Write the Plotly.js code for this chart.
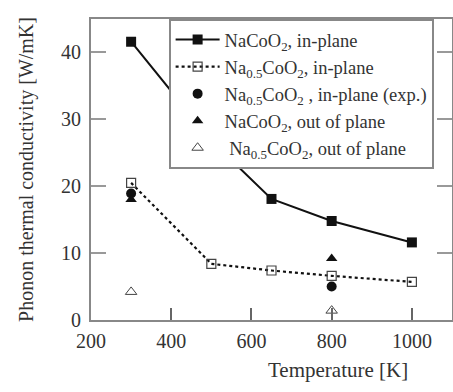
<!DOCTYPE html>
<html>
<head>
<meta charset="utf-8">
<script src="https://cdn.plot.ly/plotly-3.0.1.min.js"></script>
<style>html,body{margin:0;padding:0;background:#fff;}#chart{width:453px;height:392px;}</style>
</head>
<body>
<div id="chart"></div>
<script>
// Data
const tempFull = [300, 500, 650, 800, 1000];
const naCoO2InPlane = [41.6, 26.8, 18.1, 14.8, 11.6];
const na05InPlane = [20.5, 8.4, 7.4, 6.6, 5.7];
const tempExp = [300, 800];
const na05InPlaneExp = [18.9, 5.0];
const naCoO2OutPlane = [18.0, 9.2];
const na05OutPlane = [4.2, 1.4];
const xTicks = [200, 400, 600, 800, 1000];
const yTicks = [0, 10, 20, 30, 40];

const names = [
  'NaCoO<sub>2</sub>, in-plane',
  'Na<sub>0.5</sub>CoO<sub>2</sub>, in-plane',
  'Na<sub>0.5</sub>CoO<sub>2</sub> , in-plane (exp.)',
  'NaCoO<sub>2</sub>, out of plane',
  ' Na<sub>0.5</sub>CoO<sub>2</sub>, out of plane'
];

const traces = [
  {x: tempFull, y: naCoO2InPlane, name: names[0], mode: 'lines+markers',
   line: {color: '#111', width: 2}, marker: {symbol: 'square', size: 10, color: '#111'}},
  {x: tempFull, y: na05InPlane, name: names[1], mode: 'lines+markers',
   line: {color: '#111', width: 2.2, dash: 'dot'},
   marker: {symbol: 'square-open', size: 9, color: '#444', line: {width: 1.2}}},
  {x: tempExp, y: na05InPlaneExp, name: names[2], mode: 'markers',
   marker: {symbol: 'circle', size: 10, color: '#111'}},
  {x: tempExp, y: naCoO2OutPlane, name: names[3], mode: 'markers',
   marker: {symbol: 'triangle-up', size: 10, color: '#111'}},
  {x: tempExp, y: na05OutPlane, name: names[4], mode: 'markers',
   marker: {symbol: 'triangle-up-open', size: 10, color: '#444', line: {width: 1}}}
];

const fontFam = '"Liberation Serif", "DejaVu Serif", serif';

const layout = {
  width: 453, height: 392,
  margin: {l: 91, r: 1, t: 19, b: 72},
  paper_bgcolor: '#fff', plot_bgcolor: '#fff',
  font: {family: fontFam, size: 20, color: '#333'},
  showlegend: true,
  legend: {x: 0.215, y: 1, xanchor: 'left', yanchor: 'top',
    bgcolor: '#fff', bordercolor: '#888', borderwidth: 2, itemwidth: 44,
    font: {family: fontFam, size: 18.5, color: '#333'}, tracegroupgap: 0},
  xaxis: {range: [200, 1100], tickvals: xTicks, ticks: 'inside', ticklen: 12,
    tickwidth: 2, tickcolor: '#666', showline: true, linecolor: '#888', linewidth: 2,
    mirror: 'ticks', showgrid: false, zeroline: false, ticklabelstandoff: 2,
    tickfont: {family: fontFam, size: 20, color: '#333'}},
  yaxis: {range: [0, 45], tickvals: yTicks, ticks: 'inside', ticklen: 15,
    tickwidth: 2, tickcolor: '#999', showline: true, linecolor: '#888', linewidth: 2,
    mirror: 'ticks', showgrid: false, zeroline: false, ticklabelstandoff: 4,
    tickfont: {family: fontFam, size: 20, color: '#333'},
    title: {text: 'Phonon thermal conductivity [W/mK]', standoff: 22,
      font: {family: fontFam, size: 20, color: '#333'}}},
  annotations: [{text: 'Temperature [K]', xref: 'paper', yref: 'paper',
    x: 0.685, y: -0.166, xanchor: 'center', yanchor: 'middle', showarrow: false,
    font: {family: fontFam, size: 21, color: '#333'}}]
};

Plotly.newPlot('chart', traces, layout, {displayModeBar: false, staticPlot: true});
</script>
</body>
</html>
